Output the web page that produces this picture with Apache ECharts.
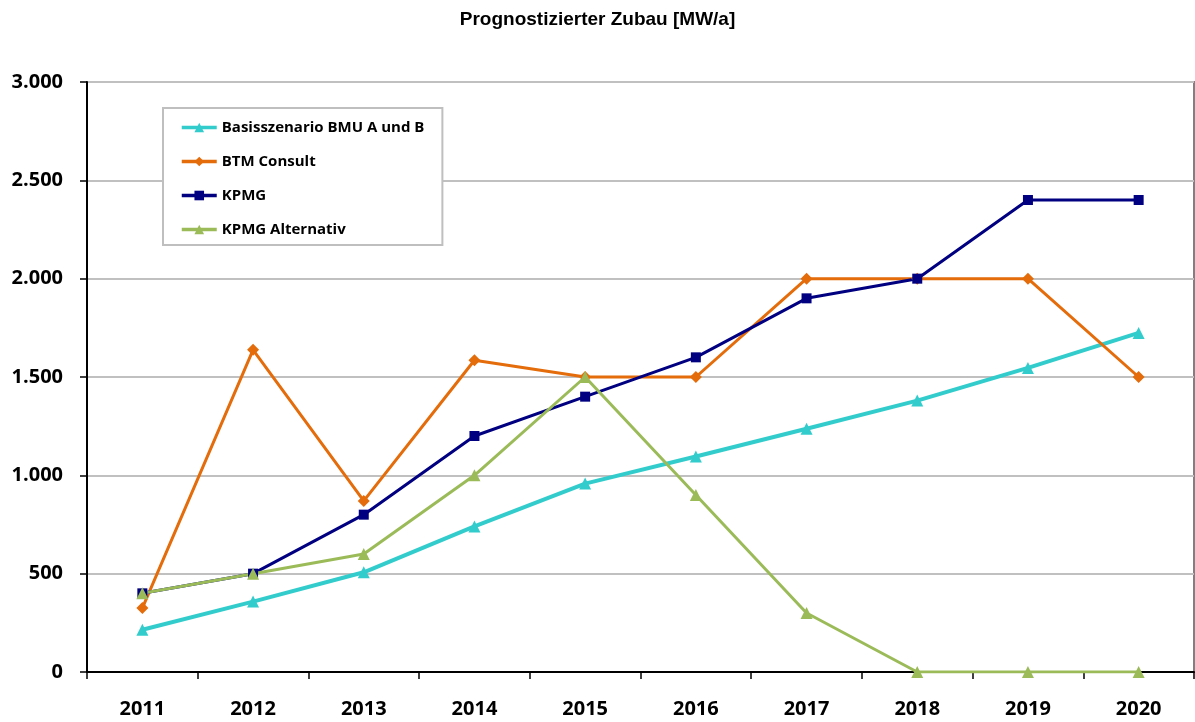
<!DOCTYPE html>
<html>
<head>
<meta charset="utf-8">
<title>Prognostizierter Zubau</title>
<script src="https://cdn.jsdelivr.net/npm/echarts@6/dist/echarts.min.js"></script>
<style>
  html, body { margin: 0; padding: 0; background: #fff; }
  #chart { width: 1195px; height: 722px; }
</style>
</head>
<body>
<div id="chart"></div>
<script>
  // Daten (MW/a)
  var years = ['2011', '2012', '2013', '2014', '2015', '2016', '2017', '2018', '2019', '2020'];
  var basisBMU = [215, 358, 507, 740, 958, 1096, 1237, 1380, 1546, 1724];
  var btmConsult = [325, 1638, 870, 1585, 1500, 1500, 2000, 2000, 2000, 1500];
  var kpmg = [400, 500, 800, 1200, 1400, 1600, 1900, 2000, 2400, 2400];
  var kpmgAlternativ = [400, 500, 600, 1000, 1500, 900, 300, 0, 0, 0];
  var yTicks = [0, 500, 1000, 1500, 2000, 2500, 3000];

  var labelFont = '"Open Sans", "DejaVu Sans", sans-serif';

  function fmtTausend(v) {
    return String(v).replace(/\B(?=(\d{3})+(?!\d))/g, '.');
  }

  function lineSeries(name, data, color, symbol, size, width) {
    return {
      name: name,
      type: 'line',
      data: data,
      symbol: symbol,
      symbolSize: size,
      showAllSymbol: true,
      animation: false,
      itemStyle: { color: color },
      lineStyle: { color: color, width: width }
    };
  }

  var chart = echarts.init(document.getElementById('chart'));
  chart.setOption({
    backgroundColor: '#fff',
    animation: false,
    title: {
      text: 'Prognostizierter Zubau [MW/a]',
      left: 'center',
      top: 5,
      textStyle: {
        fontFamily: '"Liberation Sans", Arial, sans-serif',
        fontWeight: 'bold',
        fontSize: 19,
        color: '#000'
      }
    },
    legend: {
      orient: 'vertical',
      left: 163,
      top: 108,
      padding: [12, 18, 8, 17],
      itemWidth: 35,
      itemHeight: 12,
      itemGap: 19,
      backgroundColor: '#fff',
      borderColor: '#BFBFBF',
      borderWidth: 2,
      borderRadius: 0,
      lineStyle: { width: 3.5 },
      textStyle: {
        fontFamily: labelFont,
        fontWeight: 'bold',
        fontSize: 15,
        color: '#000',
        lineHeight: 14
      },
      data: ['Basisszenario BMU A und B', 'BTM Consult', 'KPMG', 'KPMG Alternativ']
    },
    grid: {
      left: 87,
      right: 1,
      top: 82,
      bottom: 50,
      show: true,
      borderColor: '#808080',
      borderWidth: 2,
      backgroundColor: 'transparent'
    },
    xAxis: {
      type: 'category',
      data: years,
      boundaryGap: true,
      axisLine: { show: true, lineStyle: { color: '#000', width: 2 } },
      axisTick: { show: true, interval: 0, length: 7, lineStyle: { color: '#000', width: 1.5 } },
      axisLabel: {
        margin: 27,
        interval: 0,
        fontFamily: labelFont,
        fontWeight: 'bold',
        fontSize: 20,
        color: '#000'
      },
      splitLine: { show: false }
    },
    yAxis: {
      type: 'value',
      min: yTicks[0],
      max: yTicks[yTicks.length - 1],
      interval: 500,
      axisLine: { show: true, lineStyle: { color: '#000', width: 2 } },
      axisTick: { show: true, length: 7, lineStyle: { color: '#000', width: 1.5 } },
      axisLabel: {
        margin: 24,
        fontFamily: labelFont,
        fontWeight: 'bold',
        fontSize: 20,
        color: '#000',
        formatter: fmtTausend
      },
      splitLine: { show: true, lineStyle: { color: '#C0C0C0', width: 2 } }
    },
    series: [
      lineSeries('Basisszenario BMU A und B', basisBMU, '#33CCCC', 'triangle', 12, 4),
      lineSeries('BTM Consult', btmConsult, '#E46C0A', 'diamond', 12, 3),
      lineSeries('KPMG', kpmg, '#000080', 'rect', 10, 3),
      lineSeries('KPMG Alternativ', kpmgAlternativ, '#9BBB59', 'triangle', 12, 3)
    ]
  });
</script>
</body>
</html>
